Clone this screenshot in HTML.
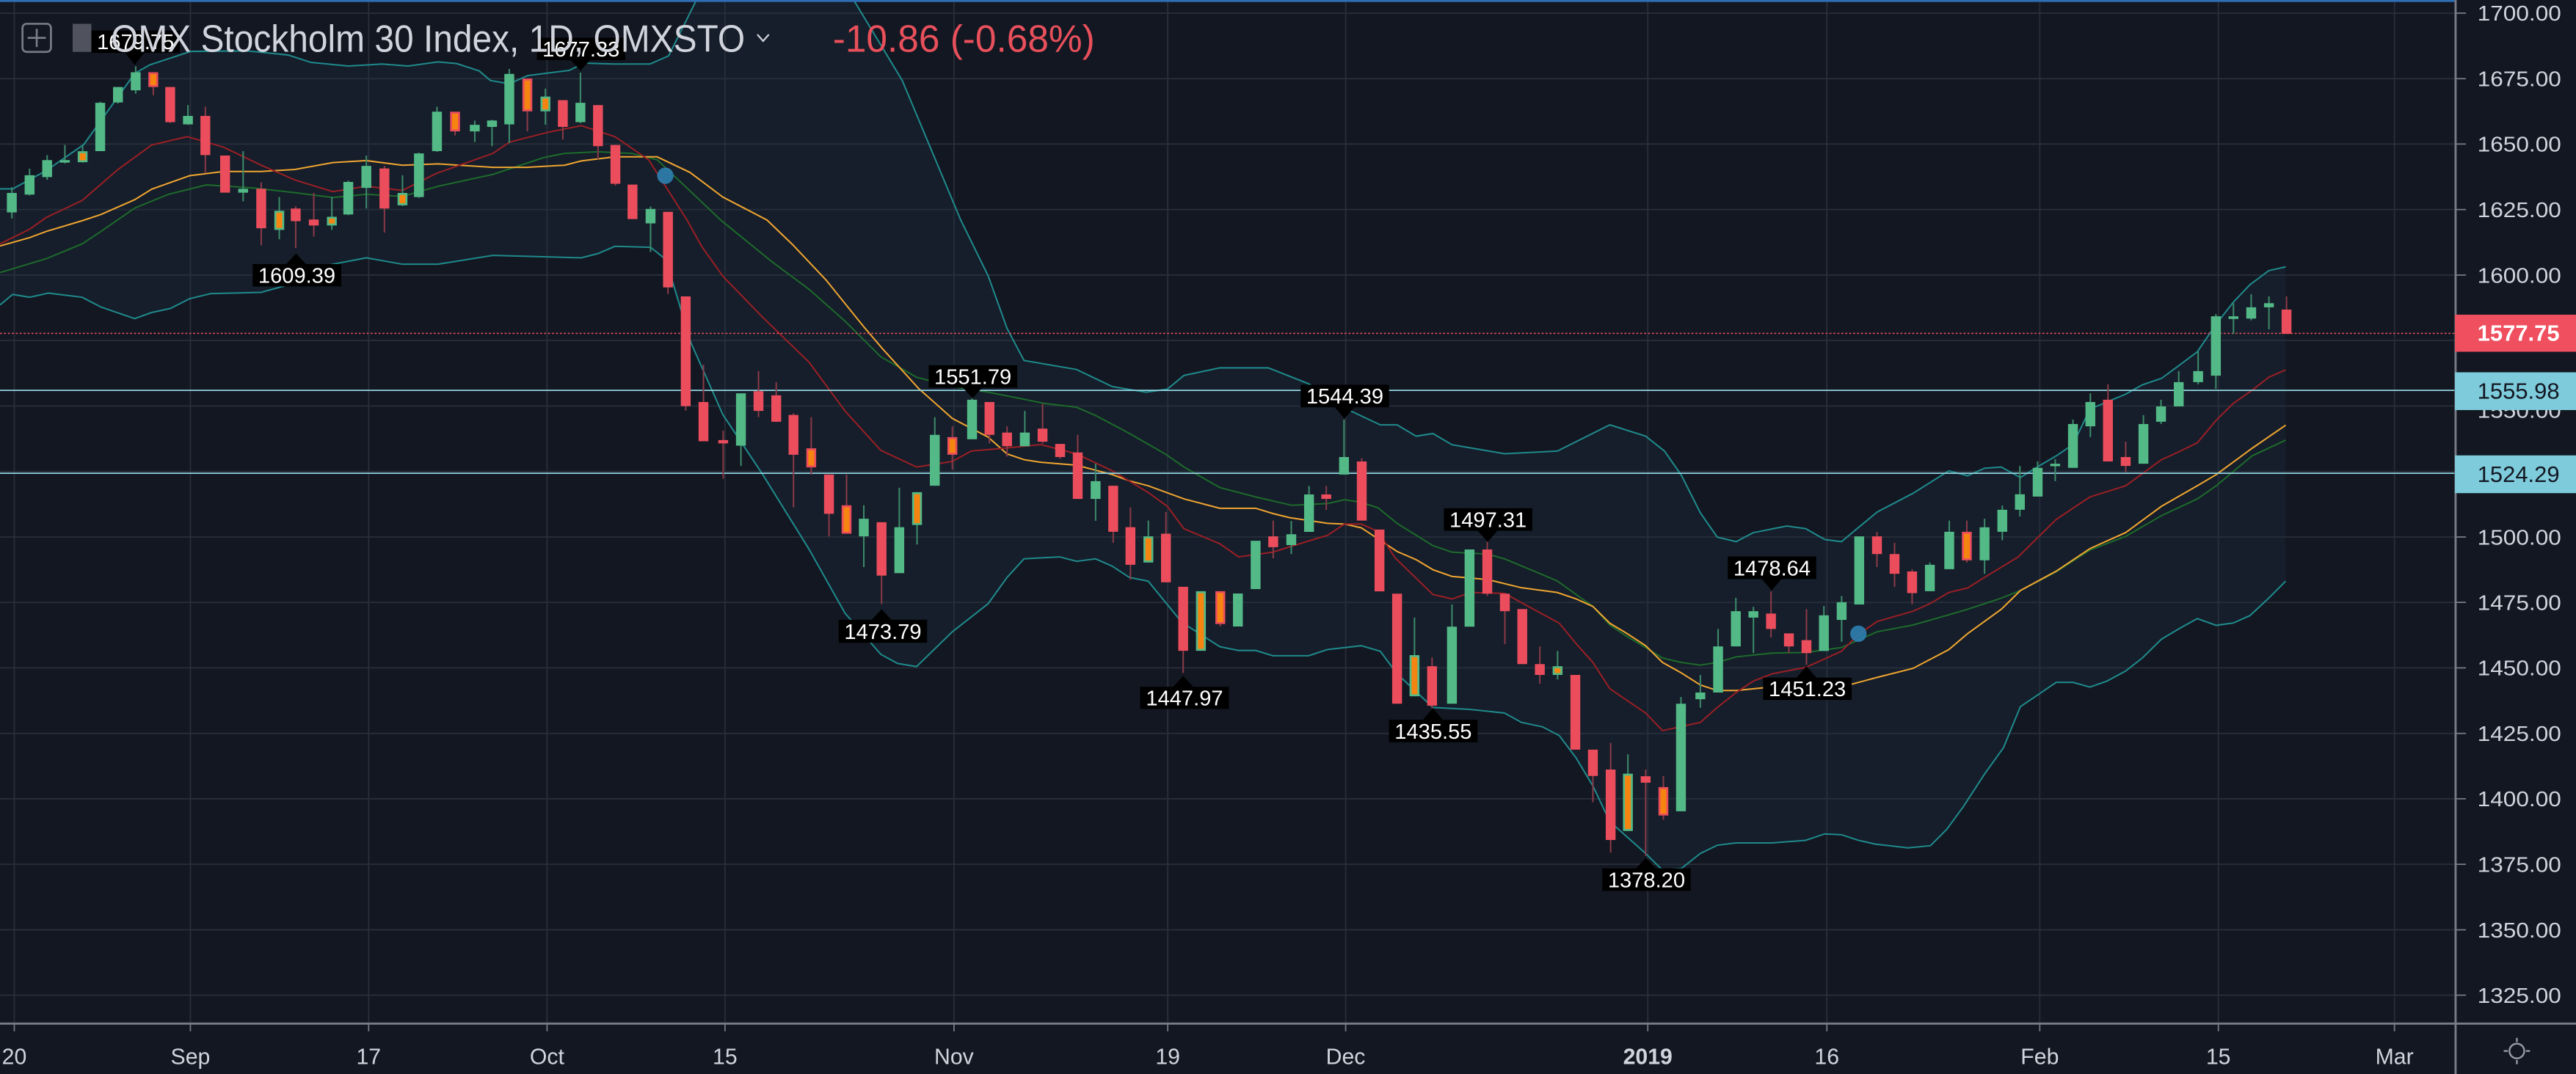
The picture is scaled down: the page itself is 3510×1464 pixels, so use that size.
<!DOCTYPE html>
<html><head><meta charset="utf-8"><style>
html,body{margin:0;padding:0;background:#131722;}
svg{display:block;}
text{font-family:"Liberation Sans",sans-serif;}
</style></head><body>
<svg width="3510" height="1464" viewBox="0 0 1568 654" preserveAspectRatio="none" xmlns="http://www.w3.org/2000/svg">
<rect x="0" y="0" width="1568" height="654" fill="#131722"/>
<defs><clipPath id="pc"><rect x="0" y="1" width="1494" height="622"/></clipPath></defs>
<g stroke="#2a2e39" stroke-width="0.8">
<line x1="0" y1="8" x2="1494" y2="8"/><line x1="0" y1="47.9" x2="1494" y2="47.9"/><line x1="0" y1="87.7" x2="1494" y2="87.7"/><line x1="0" y1="127.6" x2="1494" y2="127.6"/><line x1="0" y1="167.5" x2="1494" y2="167.5"/><line x1="0" y1="207.3" x2="1494" y2="207.3"/><line x1="0" y1="247.2" x2="1494" y2="247.2"/><line x1="0" y1="287.1" x2="1494" y2="287.1"/><line x1="0" y1="327" x2="1494" y2="327"/><line x1="0" y1="366.8" x2="1494" y2="366.8"/><line x1="0" y1="406.7" x2="1494" y2="406.7"/><line x1="0" y1="446.6" x2="1494" y2="446.6"/><line x1="0" y1="486.4" x2="1494" y2="486.4"/><line x1="0" y1="526.3" x2="1494" y2="526.3"/><line x1="0" y1="566.2" x2="1494" y2="566.2"/><line x1="0" y1="606" x2="1494" y2="606"/>
<line x1="8.7" y1="0" x2="8.7" y2="623"/><line x1="115.9" y1="0" x2="115.9" y2="623"/><line x1="224.4" y1="0" x2="224.4" y2="623"/><line x1="333" y1="0" x2="333" y2="623"/><line x1="441.3" y1="0" x2="441.3" y2="623"/><line x1="580.7" y1="0" x2="580.7" y2="623"/><line x1="710.8" y1="0" x2="710.8" y2="623"/><line x1="819.1" y1="0" x2="819.1" y2="623"/><line x1="1003" y1="0" x2="1003" y2="623"/><line x1="1112" y1="0" x2="1112" y2="623"/><line x1="1241.6" y1="0" x2="1241.6" y2="623"/><line x1="1350.3" y1="0" x2="1350.3" y2="623"/><line x1="1457.5" y1="0" x2="1457.5" y2="623"/>
</g>
<g clip-path="url(#pc)">
<polygon fill="#1c3440" fill-opacity="0.28" points="0,115 7.7,115 28,104 51,88 82,44.7 91.2,39.5 116.2,31.3 150.4,31 175.5,33.5 189.2,38 212,40.2 232.5,39 248.4,40.2 266.6,37.7 278,38.7 291.7,43.2 298.5,49 310,51 321.3,46 337.3,44 346.4,42.9 355.5,38.4 373.8,39 395.6,39 407,34 423.9,0 440,-60 500,-60 519.6,0 549.2,49 584.8,134 601.5,168 613,200 623.3,219.5 655.3,225 677,235.4 697.6,238.8 710.5,237 720.7,228.6 742.5,224 772,224 796.6,233.7 818.4,248.5 840.2,258.7 850.4,258.7 862,265.6 872.2,264 883.8,270.8 915.8,276.3 947.9,274.7 979.9,258.7 1001.7,265.6 1013.2,274.7 1023.5,289.5 1035,312.3 1045.3,327.1 1056.8,329.8 1067.1,324.4 1087.6,320.3 1099.1,321.9 1110.7,328.5 1120.9,329.8 1142.6,311.8 1164.4,300.4 1186.2,286.7 1197.7,289.7 1208,285.1 1218.2,284.4 1229.8,290.8 1240,284.4 1251.6,277.6 1261.8,270.7 1272.1,249.1 1293.9,240 1304.1,234.3 1315.7,230.4 1325.9,222.9 1337.5,214.2 1349,197.4 1359.3,184.1 1369.5,173.4 1381,164.8 1391.3,162.5 1391.3,353.9 1381,364.2 1369.5,374.9 1359.3,379.4 1349,380.8 1337.5,376.7 1327.2,382.4 1315.7,389.2 1304.1,400.6 1293.9,408.6 1282.4,414.8 1272.1,418.4 1261.8,415.5 1251.6,415.5 1240,423.4 1229.8,430.3 1219.5,455.3 1208,471.3 1195,491.3 1185,505 1175,515 1161.4,516.3 1141.4,514 1131.2,511.7 1120.9,508.3 1110.7,507.8 1099.1,511.7 1078.6,513.3 1056.8,513.3 1045.3,514.7 1035,519.7 1023.5,528.8 1012,529.9 1001.7,519.7 979.9,500.3 969.6,478.6 959.4,461.6 949.1,447.9 938.9,442.6 926.1,439.9 915.8,434.2 894,431.9 872.2,430.8 850.4,410.3 840.2,396.6 828.6,393.2 808.1,395.5 796.6,399.3 774.8,399.3 764.3,396.1 754,396.1 742.5,393.8 719.4,379 698.9,353.9 687.4,351.6 677.1,344.8 666.9,340.3 655.3,341.8 645,339.1 623.3,340.3 613,351.6 601.5,367.6 579.7,384.7 557.9,405.9 546.4,404 536.1,398.4 514.3,373.3 492.5,334.5 464.3,289 440,252.5 420.7,209 405.3,158 396,150.6 374.3,150 364,154.4 353.8,157 300,155.5 266.7,160.9 244.9,160.9 223,157 200,161.4 179.5,172.4 159,178 128.2,178.8 115.4,181.9 103.8,187.8 92.3,190.3 82,194 61.5,187 50,181 29.5,178.5 18,181 7.7,179.3 0,185.7"/>
<g fill="none" stroke="#1f8a8c" stroke-width="0.9">
<polyline points="0,115 7.7,115 28,104 51,88 82,44.7 91.2,39.5 116.2,31.3 150.4,31 175.5,33.5 189.2,38 212,40.2 232.5,39 248.4,40.2 266.6,37.7 278,38.7 291.7,43.2 298.5,49 310,51 321.3,46 337.3,44 346.4,42.9 355.5,38.4 373.8,39 395.6,39 407,34 423.9,0 440,-60 500,-60 519.6,0 549.2,49 584.8,134 601.5,168 613,200 623.3,219.5 655.3,225 677,235.4 697.6,238.8 710.5,237 720.7,228.6 742.5,224 772,224 796.6,233.7 818.4,248.5 840.2,258.7 850.4,258.7 862,265.6 872.2,264 883.8,270.8 915.8,276.3 947.9,274.7 979.9,258.7 1001.7,265.6 1013.2,274.7 1023.5,289.5 1035,312.3 1045.3,327.1 1056.8,329.8 1067.1,324.4 1087.6,320.3 1099.1,321.9 1110.7,328.5 1120.9,329.8 1142.6,311.8 1164.4,300.4 1186.2,286.7 1197.7,289.7 1208,285.1 1218.2,284.4 1229.8,290.8 1240,284.4 1251.6,277.6 1261.8,270.7 1272.1,249.1 1293.9,240 1304.1,234.3 1315.7,230.4 1325.9,222.9 1337.5,214.2 1349,197.4 1359.3,184.1 1369.5,173.4 1381,164.8 1391.3,162.5"/>
<polyline points="0,185.7 7.7,179.3 18,181 29.5,178.5 50,181 61.5,187 82,194 92.3,190.3 103.8,187.8 115.4,181.9 128.2,178.8 159,178 179.5,172.4 200,161.4 223,157 244.9,160.9 266.7,160.9 300,155.5 353.8,157 364,154.4 374.3,150 396,150.6 405.3,158 420.7,209 440,252.5 464.3,289 492.5,334.5 514.3,373.3 536.1,398.4 546.4,404 557.9,405.9 579.7,384.7 601.5,367.6 613,351.6 623.3,340.3 645,339.1 655.3,341.8 666.9,340.3 677.1,344.8 687.4,351.6 698.9,353.9 719.4,379 742.5,393.8 754,396.1 764.3,396.1 774.8,399.3 796.6,399.3 808.1,395.5 828.6,393.2 840.2,396.6 850.4,410.3 872.2,430.8 894,431.9 915.8,434.2 926.1,439.9 938.9,442.6 949.1,447.9 959.4,461.6 969.6,478.6 979.9,500.3 1001.7,519.7 1012,529.9 1023.5,528.8 1035,519.7 1045.3,514.7 1056.8,513.3 1078.6,513.3 1099.1,511.7 1110.7,507.8 1120.9,508.3 1131.2,511.7 1141.4,514 1161.4,516.3 1175,515 1185,505 1195,491.3 1208,471.3 1219.5,455.3 1229.8,430.3 1240,423.4 1251.6,415.5 1261.8,415.5 1272.1,418.4 1282.4,414.8 1293.9,408.6 1304.1,400.6 1315.7,389.2 1327.2,382.4 1337.5,376.7 1349,380.8 1359.3,379.4 1369.5,374.9 1381,364.2 1391.3,353.9"/>
</g>
<polyline fill="none" stroke="#1e6a2c" stroke-width="0.9" points="0,166 28.2,157.5 50,148.5 61.5,140.9 82,126.7 102.6,118.3 125.6,112.6 153.8,114.4 179.5,117.3 202.6,120.3 223,118.3 244.9,119.6 266.7,113.4 300,106.2 330.8,96 343.6,93.4 364,92.4 384.6,93.4 400,97.3 438.7,134 469.4,159 492.5,176.2 514.3,195.5 536.1,217.2 557.9,229.7 579.7,235.4 601.5,238.8 636.1,245.7 655.3,248 666.9,253 687.4,263.9 709.2,276.4 720.7,284.4 742.5,296.9 764.3,302.6 786.3,307.7 808.1,306.6 818.4,304.3 828.6,305.9 838.9,309.3 850.4,318.7 872.2,332.3 883.8,336.2 905.5,337.4 915.8,340.3 938.9,349.9 947.9,353.8 969.6,369.3 979.9,380.6 990.2,387.5 1001.7,394.3 1012,400.7 1023.5,403.4 1035,405 1045.3,403.4 1056.8,400 1078.6,397.7 1099.1,397.3 1120.9,394.3 1142.6,384.7 1164.4,380.6 1186.2,374.4 1197.7,371 1218.2,364.2 1229.8,359.6 1251.6,348.2 1272.1,335 1293.9,326.6 1315.7,314 1337.5,303.8 1349,295.8 1370.8,277.6 1391.3,268"/>
<polyline fill="none" stroke="#f0a531" stroke-width="0.9" points="0,149.8 18,144.7 28.2,140.9 50,134.4 61.5,130.6 82,121.6 92.3,115.2 115.4,107 136,104.4 159,104.4 179.5,103.2 202.6,99 223,97.8 244.9,100.6 266.7,99.8 300,101.9 320.5,101.9 343.6,100.6 353.8,98 374.3,95.5 400,95.5 420,105 440,120 466.9,134 482.3,148.8 502.8,170.5 525.8,199 537.4,212.6 559.2,236.6 579.7,254.8 601.5,266.2 613,276.4 623.3,279.9 633.5,281.5 655.3,283.3 677.1,289 687.4,292.8 698.9,295.8 720.7,303.8 742.5,309.5 764.3,309.5 774.8,312.7 785,315.2 808.1,318.7 818.4,319.1 828.6,321.4 838.9,328.2 850.4,335.8 862,340.8 872.2,346.9 883.8,351 905.5,352.9 926.1,357.9 947.9,360.8 959.4,364.7 969.6,369.3 979.9,379.5 990.2,385.7 1001.7,393.2 1012,403.4 1023.5,409.8 1035,417.1 1045.3,420.5 1056.8,420.5 1078.6,418.3 1099.1,418.3 1120.9,418.3 1142.6,412.5 1164.4,407 1186.2,395.6 1197.7,385.8 1218.2,371 1229.8,359.6 1251.6,347.8 1272.1,334.1 1293.9,324.3 1315.7,308.3 1337.5,295.8 1349,289 1370.8,273 1391.3,258.9"/>
<polyline fill="none" stroke="#9a1f26" stroke-width="0.9" points="0,148.5 18,139.6 28.2,132.4 50,122.1 71.8,103.2 92.3,88.3 114,83.2 136,89.6 159,100.6 179.5,109.6 202.6,116.7 223,113.4 244.9,116 265.4,105.7 300,93.4 310.2,86.5 333.3,80.6 353.8,76.5 374.3,83.2 394.8,97.3 418.2,134 427.1,150 440,168.2 464.3,193.3 492.5,220.6 514.3,250.2 536.1,274.2 557.9,284.4 579.7,281 591.2,274.6 610.5,273 633.5,270.7 655.3,276.4 677.1,286.7 698.9,299.9 710.5,308.3 720.7,322 742.5,331.1 754,339.1 774.8,336.2 796.6,329.4 808.1,326 818.4,319.1 828.6,319.1 838.9,323.7 849.1,339.6 872.2,362 883.8,364.7 895.3,360.8 915.8,361.3 926.1,367 949.1,379.5 959.4,392 969.6,403.4 979.9,419.4 1001.7,434.2 1012,444.9 1035,439.9 1045.3,430.8 1056.8,421.7 1067.1,414.8 1078.6,410.3 1099.1,406.4 1120.9,396.6 1131.2,386.3 1142.7,378.4 1164.4,372.2 1174.7,367.6 1186.2,360.8 1197.7,358 1208,351.6 1228.5,339.1 1251.6,316.3 1272.1,302.6 1293.9,295.8 1315.7,279.9 1325.9,275.3 1337.5,269.6 1349,255.9 1359.3,245.7 1370.8,237.7 1381,229.7 1391.3,225.2"/>
</g>
<line x1="0" y1="203" x2="1494" y2="203" stroke="#e0505c" stroke-width="0.7" stroke-dasharray="1.2,1.2"/>
<line x1="0" y1="237.7" x2="1494" y2="237.7" stroke="#8fd3e0" stroke-width="0.8"/>
<line x1="0" y1="288.2" x2="1494" y2="288.2" stroke="#8fd3e0" stroke-width="0.8"/>
<!-- wicks -->
<path fill="none" stroke="#3d8a6a" stroke-width="0.9" d="M7.2 114V133M18 102.7V119M28.7 94.5V109.5M39.5 88.3V99.5M50.3 89V99M61 62V92M71.8 53V63M82.6 40.3V57M114.4 64V76M148 92V122.6M170 120V145.7M202 120V140M212 110V131M223 94.7V127M245 106.7V125.5M255 93V120.5M266 65V92.5M289 73.5V86.5M299.5 73V89M310 42V87M332 54V76M353.3 44.2V75M396 125.7V153.4M451 239.5V283.7M525.8 307.7V345.3M547.4 297V349M558.2 299.7V331.6M569 254V295.8M591.7 242.5V267.5M623.8 250.2V271.7M666.9 282.4V317.2M699 317V342.5M786 317.3V337.4M796.8 295.9V323.9M818.1 255.5V289M861 376V424M883.8 368.1V428.5M948.1 396.4V413.7M990.9 459.3V506M1023.2 424.4V494M1035 411V431M1045.8 383V421.7M1056.6 364V393.6M1067.3 369.5V397.7M1110.2 369V396.4M1121 362.9V390.9M1174.7 342.5V360M1186.5 317V346.6M1208 315.9V349.4M1218.8 307.9V329M1229.5 283.7V314.5M1240.3 281V302.4M1251 279.6V293M1261.8 255.5V284.9M1272.4 239.5V266.2M1304.7 252.8V282.4M1315.4 243.4V258.2M1326.2 226V247.5M1338 214V234M1348.8 191.2V236.8M1359.5 184.6V203.3M1370.3 179.2V195.1M1381.1 180.5V200.5"/>
<path fill="none" stroke="#8a3a48" stroke-width="0.9" d="M93.3 44V58M103.6 53V75M125 65V105.5M159 111V149.3M180 125.6V151M191 117.5V144M234 101V141.6M277 68V82.5M321 47.8V80M342.6 61V85M364 64V97M374.6 88.3V113M406.6 129V179M417.4 180.5V250M428.2 222V268.7M440.2 262.3V291.5M461.7 226V254M472.5 232.7V257M483 251.6V309M493.8 254V289M504.6 289V326.6M515.3 289V325M536.6 318V367.8M579.7 259.6V286M602.3 244.8V270M613 259.6V278M634.6 246V270M645.3 270.3V279.5M656 264.8V303.8M677.6 295.8V330.5M688.1 309V353M709.7 311.8V354.6M720.2 357.3V409.8M742.8 360V381.5M775 317V340M807.3 295.9V310.5M828.9 279V317M871.7 400.3V431.2M905.3 329.8V362.9M916 361.5V392.3M937.3 393.6V416.4M969.6 456.5V488.5M980.4 452.4V519.2M1001.7 468.6V521.2M1012.5 472.5V499.2M1078 360.1V388.2M1088.9 385.7V397.5M1099.6 370.9V404.8M1142.5 323.9V345.3M1153.2 330.5V357.4M1163.9 346.6V368M1197.2 317V342.5M1283.1 234V281M1293.9 268.9V287.6M1391.8 180.5V203.3"/>
<!-- green bodies -->
<path fill="#53b987" d="M4.2 117.5h6V129.3h-6ZM15 106.7h6V118.5h-6ZM25.7 97.5h6V107.8h-6ZM36.5 97.5h6V99h-6ZM47.3 92.1h6V98.8h-6ZM58 62.6h6V92h-6ZM68.8 53h6V62.4h-6ZM79.6 44h6V55h-6ZM111.4 70.6h6V75.7h-6ZM145 115h6V117.3h-6ZM167 128.3h6V140h-6ZM199 132h6V137.3h-6ZM209 110.8h6V130.6h-6ZM220 101h6V114.4h-6ZM242 117.5h6V125h-6ZM252 93.4h6V120h-6ZM263 68h6V92h-6ZM286 76h6V80h-6ZM296.5 73.4h6V77.3h-6ZM307 45h6V75.7h-6ZM329 58.8h6V67.8h-6ZM350.3 62.6h6V74.4h-6ZM393 127.2h6V136h-6ZM448 239.5h6V271.4h-6ZM522.8 315.9h6V326.6h-6ZM544.4 321h6V349h-6ZM555.2 299.7h6V319.7h-6ZM566 264.8h6V295.8h-6ZM588.7 243.4h6V267.5h-6ZM620.8 263.4h6V271.7h-6ZM663.9 293h6V303.8h-6ZM696 326.6h6V342.5h-6ZM728 360h6V396.3h-6ZM750.5 361.4h6V381.5h-6ZM761.3 329.3h6V358.7h-6ZM783 325.3h6V331.9h-6ZM793.8 301.1h6V323.9h-6ZM815.1 278.3h6V289h-6ZM858 398.9h6V424h-6ZM880.8 381.6h6V428.5h-6ZM891.5 334.6h6V381.6h-6ZM945.1 405.7h6V411h-6ZM987.9 471.1h6V506h-6ZM1020.2 428.5h6V494h-6ZM1032 421.7h6V425.8h-6ZM1042.8 393.6h6V421.7h-6ZM1053.6 372.2h6V393.6h-6ZM1064.3 372.2h6V376.1h-6ZM1107.2 374.7h6V396.4h-6ZM1118 366.7h6V377.5h-6ZM1128.7 326.6h6V368.1h-6ZM1171.7 343.9h6V360h-6ZM1183.5 323.8h6V346.6h-6ZM1205 321.1h6V341.2h-6ZM1215.8 310.4h6V323.8h-6ZM1226.5 301h6V310.4h-6ZM1237.3 284.9h6V302.4h-6ZM1248 282.4h6V283.9h-6ZM1258.8 258.2h6V284.9h-6ZM1269.4 244.8h6V259.6h-6ZM1301.7 258.2h6V282.4h-6ZM1312.4 247.5h6V256.8h-6ZM1323.2 232.7h6V247.5h-6ZM1335 226h6V232.7h-6ZM1345.8 192.6h6V228.8h-6ZM1356.5 192.6h6V194.2h-6ZM1367.3 187.1h6V194h-6ZM1378.1 184.6h6V187.1h-6Z"/>
<!-- red bodies -->
<path fill="#eb4d5c" d="M90.3 44h6V53h-6ZM100.6 53h6V74.4h-6ZM122 70.6h6V94.4h-6ZM134 94.7h6V117.3h-6ZM156 115h6V139h-6ZM177 127h6V134.7h-6ZM188 133.7h6V137.3h-6ZM231 102.6h6V127h-6ZM274 68h6V80h-6ZM318 47.8h6V67.8h-6ZM339.6 61h6V77.3h-6ZM361 64h6V89h-6ZM371.6 88.3h6V111.9h-6ZM382 112.4h6V133.4h-6ZM403.6 129h6V175h-6ZM414.4 180.5h6V247.3h-6ZM425.2 244.8h6V268.7h-6ZM437.2 268h6V270h-6ZM458.7 238.2h6V250.2h-6ZM469.5 240.7h6V256.8h-6ZM480 252.7h6V276.9h-6ZM490.8 273h6V284.6h-6ZM501.6 289h6V312.9h-6ZM512.3 307.7h6V325h-6ZM533.6 318h6V350.5h-6ZM576.7 266.2h6V276.9h-6ZM599.3 244.8h6V264.8h-6ZM610 263.4h6V271.7h-6ZM631.6 261h6V269h-6ZM642.3 270.3h6V278.3h-6ZM653 275.5h6V303.8h-6ZM674.6 295.8h6V323.8h-6ZM685.1 321h6V343.9h-6ZM706.7 325h6V354.6h-6ZM717.2 357.3h6V396.3h-6ZM739.8 360h6V380h-6ZM772 326.6h6V333.2h-6ZM804.3 301.1h6V303.8h-6ZM825.9 281h6V317h-6ZM836.7 322.5h6V360.1h-6ZM847.4 361.5h6V428.5h-6ZM868.7 405.7h6V429.7h-6ZM902.3 334.6h6V361.5h-6ZM913 361.5h6V372.2h-6ZM923.6 370.9h6V404.4h-6ZM934.3 404.4h6V411h-6ZM955.9 411h6V456.5h-6ZM966.6 456.5h6V472.5h-6ZM977.4 468.6h6V511.5h-6ZM998.7 472.7h6V476.6h-6ZM1009.5 479.3h6V496.6h-6ZM1075 373.6h6V383h-6ZM1085.9 385.7h6V393.6h-6ZM1096.6 389.8h6V397.7h-6ZM1139.5 326.6h6V337.4h-6ZM1150.2 337.4h6V349.4h-6ZM1160.9 348h6V361.2h-6ZM1194.2 323.8h6V341.2h-6ZM1280.1 243.4h6V281h-6ZM1290.9 278.3h6V283.7h-6ZM1388.8 188.5h6V203.3h-6Z"/>
<!-- orange inner -->
<path fill="#f68410" d="M48.5 93.3h3.6V97.6h-3.6ZM168.2 129.5h3.6V138.8h-3.6ZM200.2 133.2h3.6V136.1h-3.6ZM243.2 118.7h3.6V123.8h-3.6ZM330.2 60h3.6V66.6h-3.6ZM556.4 300.9h3.6V318.5h-3.6ZM697.2 327.8h3.6V341.3h-3.6ZM729.2 361.2h3.6V395.1h-3.6ZM859.2 400.1h3.6V422.8h-3.6ZM946.3 406.9h3.6V409.8h-3.6ZM989.1 472.3h3.6V504.8h-3.6ZM91.5 45.2h3.6V51.8h-3.6ZM275.2 69.2h3.6V78.8h-3.6ZM319.2 49h3.6V66.6h-3.6ZM492 274.2h3.6V283.4h-3.6ZM513.5 308.9h3.6V323.8h-3.6ZM577.9 267.4h3.6V275.7h-3.6ZM741 361.2h3.6V378.8h-3.6ZM1010.7 480.5h3.6V495.4h-3.6ZM1195.4 325h3.6V340h-3.6Z"/>
<circle cx="405" cy="107" r="5" fill="#2e7fb0" fill-opacity="0.9"/>
<circle cx="1131.2" cy="385.9" r="5" fill="#2e7fb0" fill-opacity="0.9"/>
<g font-size="13" fill="#ffffff" text-anchor="middle">
<rect x="55.6" y="18.6" width="53.8" height="13.6" fill="#000"/><polygon points="76,32 88,32 82,39.5" fill="#000"/><text x="82.5" y="30">1679.75</text>
<rect x="326.8" y="23" width="53.8" height="13.6" fill="#000"/><polygon points="347.3,36.5 359.3,36.5 353.3,43" fill="#000"/><text x="353.7" y="34.5">1677.33</text>
<rect x="153.8" y="160.8" width="53.9" height="13.6" fill="#000"/><polygon points="174.2,160.8 186.2,160.8 180.2,154.4" fill="#000"/><text x="180.7" y="172.2">1609.39</text>
<rect x="565.3" y="222.4" width="53.9" height="13.7" fill="#000"/><polygon points="586,236 598,236 592,242.5" fill="#000"/><text x="592.2" y="233.9">1551.79</text>
<rect x="510.5" y="377.4" width="53.8" height="14" fill="#000"/><polygon points="530.6,377.4 542.6,377.4 536.6,371" fill="#000"/><text x="537.4" y="389">1473.79</text>
<rect x="694" y="418.2" width="54" height="13.5" fill="#000"/><polygon points="714.2,418.2 726.2,418.2 720.2,411.6" fill="#000"/><text x="721" y="429.6">1447.97</text>
<rect x="791.7" y="234.3" width="53.8" height="13.7" fill="#000"/><polygon points="812.4,248 824.4,248 818.4,254.9" fill="#000"/><text x="818.6" y="245.8">1544.39</text>
<rect x="878.9" y="309.5" width="53.8" height="13.7" fill="#000"/><polygon points="899.5,323.2 911.5,323.2 905.5,330" fill="#000"/><text x="905.8" y="321">1497.31</text>
<rect x="845.5" y="438.3" width="53.9" height="13.7" fill="#000"/><polygon points="866.2,438.3 878.2,438.3 872.2,431.2" fill="#000"/><text x="872.4" y="449.8">1435.55</text>
<rect x="975.3" y="528.8" width="53.8" height="13.7" fill="#000"/><polygon points="995.9,528.8 1007.9,528.8 1001.9,522.4" fill="#000"/><text x="1002.2" y="540.3">1378.20</text>
<rect x="1051.7" y="338.9" width="53.8" height="13.7" fill="#000"/><polygon points="1072.4,352.6 1084.4,352.6 1078.4,359.5" fill="#000"/><text x="1078.6" y="350.4">1478.64</text>
<rect x="1073.2" y="412.6" width="53.9" height="13.6" fill="#000"/><polygon points="1093.6,412.6 1105.6,412.6 1099.6,405.7" fill="#000"/><text x="1100.1" y="424">1451.23</text>
</g>
<rect x="0" y="0" width="1568" height="1.2" fill="#2e6db4"/>
<rect x="13.7" y="14.5" width="17.3" height="17.1" rx="2.5" fill="none" stroke="#787b86" stroke-width="1.2"/>
<line x1="22.35" y1="17.5" x2="22.35" y2="28.6" stroke="#787b86" stroke-width="1.2"/>
<line x1="16.8" y1="23.05" x2="27.9" y2="23.05" stroke="#787b86" stroke-width="1.2"/>
<rect x="44.2" y="14.5" width="11.4" height="17.1" fill="#50535e"/>
<text x="67.5" y="31.6" font-size="23" fill="#d1d4dc" textLength="386" lengthAdjust="spacingAndGlyphs">OMX Stockholm 30 Index, 1D, OMXSTO</text>
<polyline points="461,21 464.5,25 468,21" fill="none" stroke="#d1d4dc" stroke-width="1"/>
<text x="506.9" y="31.6" font-size="23" fill="#e8505b" textLength="159.5" lengthAdjust="spacingAndGlyphs">-10.86 (-0.68%)</text>
<rect x="1494" y="0" width="74" height="654" fill="#131722"/>
<rect x="0" y="623.5" width="1494" height="30.5" fill="#131722"/>
<line x1="1494.7" y1="0" x2="1494.7" y2="654" stroke="#787b86" stroke-width="1.3"/>
<line x1="0" y1="623.3" x2="1568" y2="623.3" stroke="#787b86" stroke-width="1.3"/>
<g stroke="#787b86" stroke-width="0.8">
<line x1="1495" y1="8" x2="1501" y2="8"/><line x1="1495" y1="47.9" x2="1501" y2="47.9"/><line x1="1495" y1="87.7" x2="1501" y2="87.7"/><line x1="1495" y1="127.6" x2="1501" y2="127.6"/><line x1="1495" y1="167.5" x2="1501" y2="167.5"/><line x1="1495" y1="327" x2="1501" y2="327"/><line x1="1495" y1="366.8" x2="1501" y2="366.8"/><line x1="1495" y1="406.7" x2="1501" y2="406.7"/><line x1="1495" y1="446.6" x2="1501" y2="446.6"/><line x1="1495" y1="486.4" x2="1501" y2="486.4"/><line x1="1495" y1="526.3" x2="1501" y2="526.3"/><line x1="1495" y1="566.2" x2="1501" y2="566.2"/><line x1="1495" y1="606" x2="1501" y2="606"/>
<line x1="8.7" y1="623" x2="8.7" y2="628"/><line x1="115.9" y1="623" x2="115.9" y2="628"/><line x1="224.4" y1="623" x2="224.4" y2="628"/><line x1="333" y1="623" x2="333" y2="628"/><line x1="441.3" y1="623" x2="441.3" y2="628"/><line x1="580.7" y1="623" x2="580.7" y2="628"/><line x1="710.8" y1="623" x2="710.8" y2="628"/><line x1="819.1" y1="623" x2="819.1" y2="628"/><line x1="1003" y1="623" x2="1003" y2="628"/><line x1="1112" y1="623" x2="1112" y2="628"/><line x1="1241.6" y1="623" x2="1241.6" y2="628"/><line x1="1350.3" y1="623" x2="1350.3" y2="628"/><line x1="1457.5" y1="623" x2="1457.5" y2="628"/>
</g>
<g font-size="13" fill="#d1d4dc">
<text x="1508" y="12.6" textLength="51" lengthAdjust="spacingAndGlyphs">1700.00</text>
<text x="1508" y="52.5" textLength="51" lengthAdjust="spacingAndGlyphs">1675.00</text>
<text x="1508" y="92.3" textLength="51" lengthAdjust="spacingAndGlyphs">1650.00</text>
<text x="1508" y="132.2" textLength="51" lengthAdjust="spacingAndGlyphs">1625.00</text>
<text x="1508" y="172.1" textLength="51" lengthAdjust="spacingAndGlyphs">1600.00</text>
<text x="1508" y="254.5" textLength="51" lengthAdjust="spacingAndGlyphs">1550.00</text>
<text x="1508" y="331.6" textLength="51" lengthAdjust="spacingAndGlyphs">1500.00</text>
<text x="1508" y="371.4" textLength="51" lengthAdjust="spacingAndGlyphs">1475.00</text>
<text x="1508" y="411.3" textLength="51" lengthAdjust="spacingAndGlyphs">1450.00</text>
<text x="1508" y="451.2" textLength="51" lengthAdjust="spacingAndGlyphs">1425.00</text>
<text x="1508" y="491" textLength="51" lengthAdjust="spacingAndGlyphs">1400.00</text>
<text x="1508" y="530.9" textLength="51" lengthAdjust="spacingAndGlyphs">1375.00</text>
<text x="1508" y="570.8" textLength="51" lengthAdjust="spacingAndGlyphs">1350.00</text>
<text x="1508" y="610.6" textLength="51" lengthAdjust="spacingAndGlyphs">1325.00</text>
</g>
<rect x="1494.3" y="191.6" width="73.7" height="22.6" fill="#ef4f5e"/>
<text x="1508" y="207.6" font-size="13.5" font-weight="bold" fill="#ffffff" textLength="50" lengthAdjust="spacingAndGlyphs">1577.75</text>
<rect x="1494.3" y="226.7" width="73.7" height="23" fill="#7ecbdb"/>
<text x="1508" y="242.9" font-size="13.5" fill="#131722" textLength="50" lengthAdjust="spacingAndGlyphs">1555.98</text>
<rect x="1494.3" y="277.3" width="73.7" height="23" fill="#7ecbdb"/>
<text x="1508" y="293.5" font-size="13.5" fill="#131722" textLength="50" lengthAdjust="spacingAndGlyphs">1524.29</text>
<g font-size="13.5" fill="#d1d4dc" text-anchor="middle">
<text x="8.7" y="648">20</text><text x="115.9" y="648">Sep</text><text x="224.4" y="648">17</text><text x="333" y="648">Oct</text><text x="441.3" y="648">15</text><text x="580.7" y="648">Nov</text><text x="710.8" y="648">19</text><text x="819.1" y="648">Dec</text><text x="1003" y="648" font-weight="bold">2019</text><text x="1112" y="648">16</text><text x="1241.6" y="648">Feb</text><text x="1350.3" y="648">15</text><text x="1457.5" y="648">Mar</text>
</g>
<g stroke="#9598a1" stroke-width="1.1" fill="none">
<circle cx="1532" cy="640" r="4.5"/>
<line x1="1532" y1="632" x2="1532" y2="634.5"/><line x1="1532" y1="645.5" x2="1532" y2="648"/><line x1="1524" y1="640" x2="1526.5" y2="640"/><line x1="1537.5" y1="640" x2="1540" y2="640"/>
</g>
</svg>
</body></html>
